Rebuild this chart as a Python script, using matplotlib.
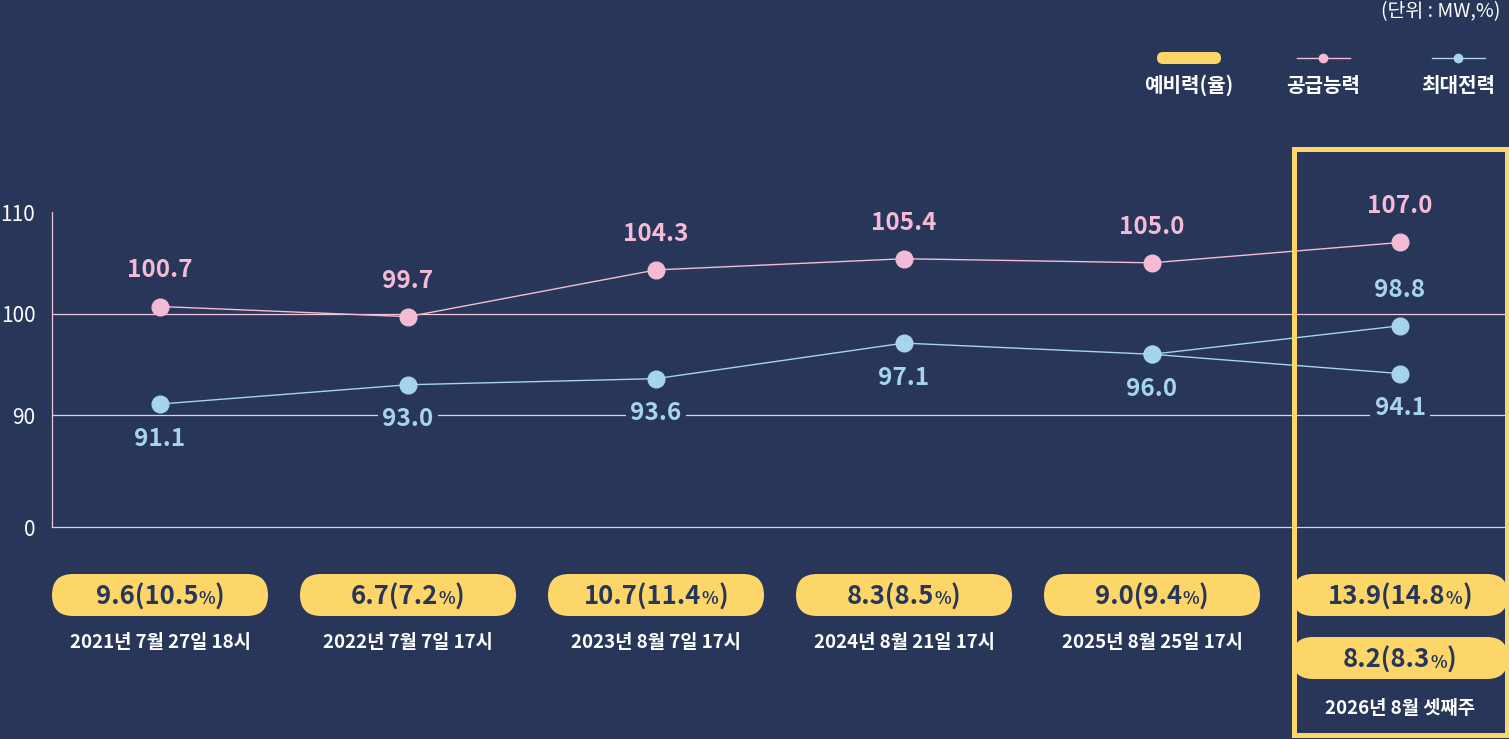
import matplotlib
matplotlib.use("Agg")
import matplotlib.pyplot as plt
from matplotlib.patches import FancyBboxPatch, Rectangle

plt.rcParams['font.family'] = ['Noto Sans CJK KR', 'DejaVu Sans']

# 데이터
dates = ['2021년 7월 27일 18시', '2022년 7월 7일 17시', '2023년 8월 7일 17시',
         '2024년 8월 21일 17시', '2025년 8월 25일 17시', '2026년 8월 셋째주']
supply = [100.7, 99.7, 104.3, 105.4, 105.0, 107.0]        # 공급능력
peak = [91.1, 93.0, 93.6, 97.1, 96.0, 98.8]               # 최대전력
peak_alt_2026 = 94.1                                       # 최대전력 (2026 다른 전망)
reserve = [9.6, 6.7, 10.7, 8.3, 9.0, 13.9]                 # 예비력
reserve_rate = [10.5, 7.2, 11.4, 8.5, 9.4, 14.8]           # 예비율
reserve_alt_2026 = 8.2
reserve_rate_alt_2026 = 8.3

ytick_pos = [79, 90, 100, 110]
ytick_labels = ['0', '90', '100', '110']
grid_levels = [90, 100]

bg = '#273659'
pink = '#F5BBD4'
blue = '#A6D4EC'
yellow = '#FDD66A'
gridc = '#F0C8DC'

W, H = 1509, 739
fig = plt.figure(figsize=(W / 100, H / 100), dpi=100, facecolor=bg)

ax = fig.add_axes([52 / W, 212 / H, (W - 52) / W, 315 / H])
ax.set_facecolor(bg)
ax.set_xlim(-108 / 248, (W - 160) / 248)
ax.set_ylim(79, 110)
for s in ['top', 'right']:
    ax.spines[s].set_visible(False)
for s in ['left', 'bottom']:
    ax.spines[s].set_color(gridc)
    ax.spines[s].set_linewidth(0.9)
ax.set_xticks([])
ax.set_yticks(ytick_pos, ytick_labels)
ax.tick_params(axis='y', length=0, pad=12, labelsize=15, labelcolor='white')

for g in grid_levels:
    ax.axhline(g, color=gridc, lw=0.9, zorder=1)

x = list(range(len(dates)))
ax.plot(x, supply, color=pink, lw=1, marker='o', ms=12, zorder=3)
ax.plot(x, peak, color=blue, lw=1, marker='o', ms=12, zorder=3)
ax.plot([x[-2], x[-1]], [peak[-2], peak_alt_2026], color=blue, lw=1, marker='o', ms=12, zorder=3)

lab = dict(ha='center', va='center', fontsize=17.5, fontweight='bold', textcoords='offset points', zorder=5,
           bbox=dict(boxstyle='square,pad=0.2', fc=bg, ec='none'))
for i, v in enumerate(supply):
    ax.annotate(f'{v:.1f}', (i, v), xytext=(0, 26), color=pink, **lab)
for i, v in enumerate(peak):
    dy = 26 if i == len(peak) - 1 else -25
    ax.annotate(f'{v:.1f}', (i, v), xytext=(0, dy), color=blue, **lab)
ax.annotate(f'{peak_alt_2026:.1f}', (x[-1], peak_alt_2026), xytext=(0, -25), color=blue, **lab)

# 오버레이 (픽셀 좌표)
ov = fig.add_axes([0, 0, 1, 1], zorder=10)
ov.set_xlim(0, W)
ov.set_ylim(H, 0)
ov.axis('off')
ov.patch.set_alpha(0)

renderer = fig.canvas.get_renderer()
cxs = [ax.transData.transform((i, 0))[0] for i in x]


def pill(cx, cy, mw, rate):
    ov.add_patch(FancyBboxPatch((cx - 108, cy - 21), 216, 42,
                                boxstyle='round,pad=0,rounding_size=21', fc=yellow, ec='none'))
    parts = [(f'{mw:.1f}({rate:.1f}', 18.5), ('%', 12.5), (')', 18.5)]
    ts = [ov.text(0, cy + 9.5, s, fontsize=sz, fontweight='bold', color=bg, va='baseline', ha='left')
          for s, sz in parts]
    ws = [t.get_window_extent(renderer).width for t in ts]
    x0 = cx - sum(ws) / 2
    for t, w in zip(ts, ws):
        t.set_x(x0)
        x0 += w


for i, cx in enumerate(cxs):
    pill(cx, 595, reserve[i], reserve_rate[i])
    if i < len(cxs) - 1:
        ov.text(cx, 642, dates[i], ha='center', va='center', fontsize=13.5, color='white', fontweight='semibold')
pill(cxs[-1], 658, reserve_alt_2026, reserve_rate_alt_2026)
ov.text(cxs[-1], 708, dates[-1], ha='center', va='center', fontsize=13.5, color='white', fontweight='semibold')

# 강조 박스
ov.add_patch(Rectangle((cxs[-1] - 106.5, 148.5), 213, 586.5, fill=False, ec=yellow, lw=3.6, zorder=6))

# 범례
ov.add_patch(FancyBboxPatch((1157, 52), 64, 12, boxstyle='round,pad=0,rounding_size=6', fc=yellow, ec='none'))
ov.plot([1297, 1350], [58, 58], color=pink, lw=1)
ov.plot([1323], [58], 'o', color=pink, ms=6)
ov.plot([1432, 1485], [58, 58], color=blue, lw=1)
ov.plot([1458], [58], 'o', color=blue, ms=6)
for lx, t in [(1189, '예비력(율)'), (1323, '공급능력'), (1458, '최대전력')]:
    ov.text(lx, 85, t, ha='center', va='center', fontsize=14.5, fontweight='bold', color='white')
ov.text(1500, 12, '(단위 : MW,%)', ha='right', va='center', fontsize=14, color='white')

fig.savefig('out.png', dpi=100, facecolor=bg)
